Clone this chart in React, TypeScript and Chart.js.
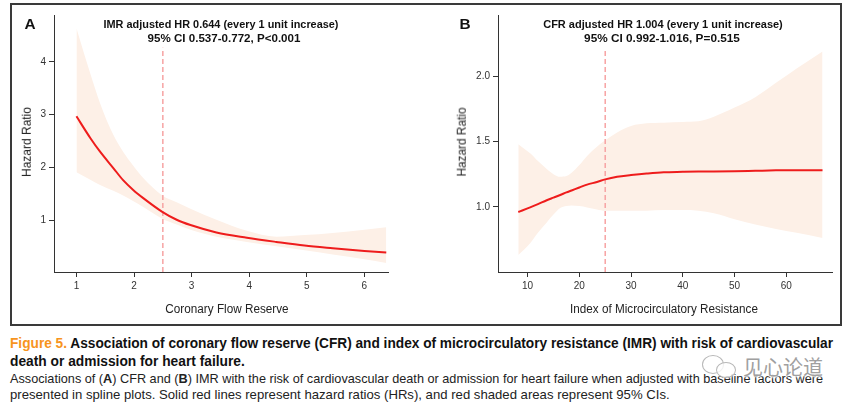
import React, { useEffect, useLayoutEffect, useRef, useState } from "react";
import { Chart, registerables } from "chart.js";

Chart.register(...registerables);

// ---------- Panel A: Coronary Flow Reserve ----------
const cfrX = [1.0, 1.24, 1.41, 1.64, 1.81, 1.99, 2.16, 2.49, 2.74, 2.98, 3.43, 3.96, 4.47, 4.96, 5.45, 6.0, 6.38];
const cfrHR = [2.97, 2.56, 2.3, 1.99, 1.76, 1.57, 1.42, 1.16, 1.01, 0.91, 0.77, 0.67, 0.59, 0.52, 0.47, 0.42, 0.39];
const cfrUpper = [4.64, 3.78, 3.22, 2.62, 2.3, 2.03, 1.8, 1.47, 1.34, 1.22, 1.01, 0.8, 0.69, 0.72, 0.76, 0.82, 0.87];
const cfrLower = [1.91, 1.77, 1.67, 1.56, 1.47, 1.36, 1.25, 1.03, 0.92, 0.82, 0.69, 0.59, 0.51, 0.43, 0.35, 0.26, 0.19];
const cfrCutoff = 2.5;
const cfrCutoffTop = 4.27;
const cfrXTicks = [1, 2, 3, 4, 5, 6];
const cfrYTicks = [1, 2, 3, 4];

// ---------- Panel B: Index of Microcirculatory Resistance ----------
const imrX = [8.2, 10.5, 12, 13.7, 15, 16.3, 17.5, 18.5, 20, 21.5, 23.4, 25, 27.3, 30, 33, 36.3, 40, 43, 46, 50, 54, 58, 62, 67];
const imrHR = [0.96, 0.995, 1.02, 1.05, 1.07, 1.09, 1.11, 1.125, 1.148, 1.17, 1.19, 1.21, 1.23, 1.243, 1.255, 1.265, 1.268, 1.27, 1.271, 1.273, 1.276, 1.279, 1.28, 1.28];
const imrUpper = [1.48, 1.41, 1.35, 1.29, 1.25, 1.23, 1.235, 1.26, 1.32, 1.39, 1.46, 1.51, 1.57, 1.62, 1.64, 1.645, 1.65, 1.655, 1.69, 1.76, 1.84, 1.95, 2.06, 2.19];
const imrLower = [0.63, 0.72, 0.8, 0.88, 0.94, 0.99, 1.005, 1.01, 1.005, 0.995, 0.98, 0.97, 0.97, 0.97, 0.97, 0.975, 0.975, 0.97, 0.95, 0.905, 0.865, 0.83, 0.8, 0.76];
const imrCutoff = 25;
const imrCutoffTop = 2.2;
const imrXTicks = [10, 20, 30, 40, 50, 60];
const imrYTicks = [1.0, 1.5, 2.0];

const BAND = "#fdf0e7";
const RED = "#ee1c1c";
const DASH = "#f7a3a3";
const AXIS = "#333333";
const FONT = '"Liberation Sans", Arial, Helvetica, sans-serif';

type PanelProps = {
  xs: number[];
  hr: number[];
  lo: number[];
  up: number[];
  cutoff: number;
  cutoffTop: number;
  xMin: number;
  xMax: number;
  yMin: number;
  yMax: number;
  xTicks: number[];
  yTicks: number[];
  yFmt: (v: number) => string;
  width: number;
  height: number;
  yAxisWidth: number;
  padTop: number;
  padRight: number;
  xAxisHeight: number;
};

function Panel(p: PanelProps) {
  const ref = useRef<HTMLCanvasElement>(null);
  useEffect(() => {
    if (!ref.current) return;
    const pts = (ys: number[]) => p.xs.map((x, i) => ({ x, y: ys[i] }));
    const chart = new Chart(ref.current, {
      type: "line",
      data: {
        datasets: [
          {
            data: pts(p.up),
            borderWidth: 0,
            borderColor: BAND,
            backgroundColor: BAND,
            pointRadius: 0,
            fill: "+1",
            cubicInterpolationMode: "monotone",
            order: 3,
          },
          {
            data: pts(p.lo),
            borderWidth: 0,
            borderColor: BAND,
            backgroundColor: BAND,
            pointRadius: 0,
            fill: false,
            cubicInterpolationMode: "monotone",
            order: 3,
          },
          {
            data: [
              { x: p.cutoff, y: p.yMin },
              { x: p.cutoff, y: p.cutoffTop },
            ],
            borderColor: DASH,
            borderWidth: 1.5,
            borderDash: [5, 3],
            pointRadius: 0,
            fill: false,
            order: 2,
          },
          {
            data: pts(p.hr),
            borderColor: RED,
            borderWidth: 2,
            pointRadius: 0,
            fill: false,
            cubicInterpolationMode: "monotone",
            order: 1,
          },
        ],
      },
      options: {
        animation: false,
        responsive: false,
        devicePixelRatio: 1,
        events: [],
        layout: { padding: { top: p.padTop, right: p.padRight, left: 0, bottom: 0 } },
        plugins: { legend: { display: false }, tooltip: { enabled: false }, title: { display: false } },
        scales: {
          x: {
            type: "linear",
            min: p.xMin,
            max: p.xMax,
            afterBuildTicks: (s: any) => {
              s.ticks = p.xTicks.map((v) => ({ value: v }));
            },
            afterFit: (s: any) => {
              s.height = p.xAxisHeight;
            },
            grid: { display: true, drawOnChartArea: false, drawTicks: true, tickLength: 5, color: AXIS, lineWidth: 1 },
            border: { display: true, color: AXIS, width: 1 },
            ticks: {
              color: AXIS,
              padding: 3,
              maxRotation: 0,
              autoSkip: false,
              font: { family: FONT, size: 10 },
              callback: (v: any) => String(v),
            },
          },
          y: {
            type: "linear",
            min: p.yMin,
            max: p.yMax,
            afterBuildTicks: (s: any) => {
              s.ticks = p.yTicks.map((v) => ({ value: v }));
            },
            afterFit: (s: any) => {
              s.width = p.yAxisWidth;
            },
            grid: { display: true, drawOnChartArea: false, drawTicks: true, tickLength: 5, color: AXIS, lineWidth: 1 },
            border: { display: true, color: AXIS, width: 1 },
            ticks: {
              color: AXIS,
              padding: 3,
              autoSkip: false,
              font: { family: FONT, size: 10 },
              callback: (v: any) => p.yFmt(Number(v)),
            },
          },
        },
      } as any,
    });
    return () => chart.destroy();
  }, []);
  return <canvas ref={ref} width={p.width} height={p.height} style={{ width: p.width, height: p.height, display: "block" }} />;
}

type FitProps = {
  left: number;
  top: number;
  width: number;
  size: number;
  bold?: boolean;
  align?: "left" | "center";
  rotate?: boolean;
  color?: string;
  family?: string;
  style?: React.CSSProperties;
  children: React.ReactNode;
};

function Fit({ left, top, width, size, bold, align = "center", rotate, color = "#111", family = FONT, style, children }: FitProps) {
  const ref = useRef<HTMLSpanElement>(null);
  const [s, setS] = useState(1);
  useLayoutEffect(() => {
    const measure = () => {
      if (ref.current) {
        const w = ref.current.offsetWidth;
        if (w > 0) setS(width / w);
      }
    };
    measure();
    if ((document as any).fonts && (document as any).fonts.ready) {
      (document as any).fonts.ready.then(measure);
    }
  }, [width]);
  let transform: string;
  let origin: string;
  if (rotate) {
    transform = `translate(-50%,-50%) rotate(-90deg) scaleX(${s})`;
    origin = "center center";
  } else if (align === "center") {
    transform = `translate(-50%,-50%) scaleX(${s})`;
    origin = "center center";
  } else {
    transform = `translateY(-50%) scaleX(${s})`;
    origin = "left center";
  }
  return (
    <span
      ref={ref}
      style={{
        position: "absolute",
        left,
        top,
        whiteSpace: "nowrap",
        fontSize: size,
        fontWeight: bold ? 700 : 400,
        color,
        fontFamily: family,
        lineHeight: 1,
        transform,
        transformOrigin: origin,
        ...style,
      }}
    >
      {children}
    </span>
  );
}

const CAPTION_FONT = '"Liberation Sans", Arial, Helvetica, sans-serif';
const HALO = "0 0 2px #fff, 0 0 2px #fff, 0 0 3px #fff, 0 0 3px #fff";

export default function App() {
  return (
    <div
      style={{
        position: "fixed",
        left: 0,
        top: 0,
        width: 852,
        height: 409,
        background: "#ffffff",
        overflow: "hidden",
        fontFamily: FONT,
      }}
    >
      {/* frame */}
      <div
        style={{
          position: "absolute",
          left: 10,
          top: 3,
          width: 832,
          height: 323,
          border: "2px solid #3a3a3a",
          boxSizing: "border-box",
        }}
      />

      {/* Panel A chart */}
      <div style={{ position: "absolute", left: 12, top: 4 }}>
        <Panel
          xs={cfrX}
          hr={cfrHR}
          lo={cfrLower}
          up={cfrUpper}
          cutoff={cfrCutoff}
          cutoffTop={cfrCutoffTop}
          xMin={0.61}
          xMax={6.41}
          yMin={0.02}
          yMax={4.89}
          xTicks={cfrXTicks}
          yTicks={cfrYTicks}
          yFmt={(v) => String(v)}
          width={418}
          height={318}
          yAxisWidth={42}
          padTop={11}
          padRight={42}
          xAxisHeight={50}
        />
      </div>

      {/* Panel B chart */}
      <div style={{ position: "absolute", left: 432, top: 4 }}>
        <Panel
          xs={imrX}
          hr={imrHR}
          lo={imrLower}
          up={imrUpper}
          cutoff={imrCutoff}
          cutoffTop={imrCutoffTop}
          xMin={4.28}
          xMax={68.83}
          yMin={0.5}
          yMax={2.47}
          xTicks={imrXTicks}
          yTicks={imrYTicks}
          yFmt={(v) => v.toFixed(1)}
          width={406}
          height={318}
          yAxisWidth={66}
          padTop={11}
          padRight={6}
          xAxisHeight={50}
        />
      </div>

      {/* Panel letters */}
      <Fit left={30} top={24} width={11} size={14} bold>A</Fit>
      <Fit left={464.5} top={24} width={11} size={14} bold>B</Fit>

      {/* Panel A annotations */}
      <Fit left={221} top={25} width={235} size={11.5} bold>IMR adjusted HR 0.644 (every 1 unit increase)</Fit>
      <Fit left={223.5} top={38.5} width={153} size={11.5} bold>95% CI 0.537-0.772, P&lt;0.001</Fit>
      <Fit left={27} top={141.7} width={70} size={12.5} rotate color="#222">Hazard Ratio</Fit>
      <Fit left={226.5} top={309} width={123} size={12.5} color="#222">Coronary Flow Reserve</Fit>

      {/* Panel B annotations */}
      <Fit left={663} top={25} width={240} size={11.5} bold>CFR adjusted HR 1.004 (every 1 unit increase)</Fit>
      <Fit left={662} top={38.5} width={156} size={11.5} bold>95% CI 0.992-1.016, P=0.515</Fit>
      <Fit left={461.5} top={141.5} width={69} size={12.5} rotate color="#222">Hazard Ratio</Fit>
      <Fit left={664} top={309} width={188} size={12.5} color="#222">Index of Microcirculatory Resistance</Fit>

      {/* Caption */}
      <Fit left={10} top={343} width={823} size={14} bold align="left" family={CAPTION_FONT}>
        <span style={{ color: "#f7941d" }}>Figure 5.</span>
        <span style={{ color: "#111" }}> Association of coronary flow reserve (CFR) and index of microcirculatory resistance (IMR) with risk of cardiovascular</span>
      </Fit>
      <Fit left={10} top={361} width={235} size={14} bold align="left" family={CAPTION_FONT}>
        death or admission for heart failure.
      </Fit>
      <Fit left={10} top={378.5} width={813} size={13.5} align="left" family={CAPTION_FONT} color="#222">
        Associations of (<b>A</b>) CFR and (<b>B</b>) IMR with the risk of cardiovascular death or admission for heart failure when adjusted with baseline factors were
      </Fit>
      <Fit left={10} top={395} width={660} size={13.5} align="left" family={CAPTION_FONT} color="#222">
        presented in spline plots. Solid red lines represent hazard ratios (HRs), and red shaded areas represent 95% CIs.
      </Fit>

      {/* watermark */}
      <div
        style={{
          position: "absolute",
          left: 702,
          top: 355,
          width: 22,
          height: 19,
          borderRadius: "50%",
          border: "1.5px solid #b8b8b8",
          background: "rgba(255,255,255,0.8)",
          boxSizing: "border-box",
          boxShadow: "0 0 2px #fff",
        }}
      />
      <div
        style={{
          position: "absolute",
          left: 716,
          top: 362,
          width: 20,
          height: 16,
          borderRadius: "50%",
          border: "1.5px solid #b8b8b8",
          background: "rgba(255,255,255,0.8)",
          boxSizing: "border-box",
          boxShadow: "0 0 2px #fff",
        }}
      />
      <Fit
        left={783}
        top={367}
        width={80}
        size={20}
        family='"Noto Sans CJK SC", sans-serif'
        color="#a0a0a0"
        style={{ textShadow: HALO }}
      >
        见心论道
      </Fit>
    </div>
  );
}
